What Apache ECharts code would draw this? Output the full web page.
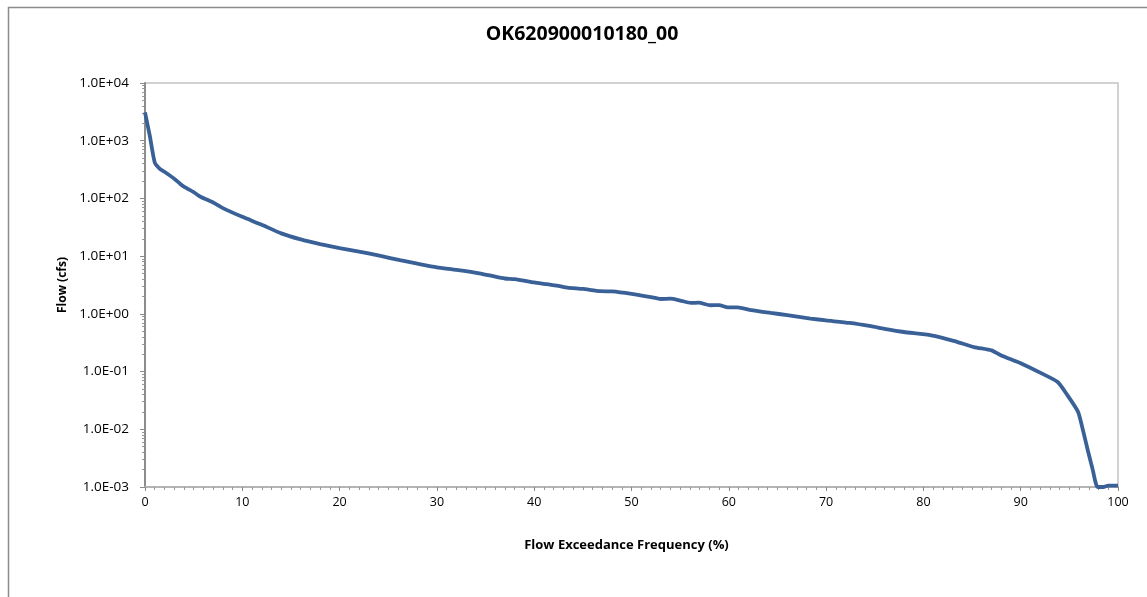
<!DOCTYPE html>
<html><head><meta charset="utf-8">
<script src="https://cdn.jsdelivr.net/npm/echarts@6/dist/echarts.min.js"></script>
<style>html,body{margin:0;padding:0;background:#fff}#c{width:1147px;height:597px}</style>
</head><body><div id="c"></div>
<script>
const titleText = 'OK620900010180_00';
const xTitle = 'Flow Exceedance Frequency (%)';
const yTitle = 'Flow (cfs)';
const pct = [0,0.5,1.0,1.5,2,3,3.6,4,5,5.7,7,8,10,12,14,16,18,20,22,24.2,26.2,28,30,32,34.5,36,37,38,40,41.3,42.5,43.4,45,46.8,48,50,52,53,54,55,56.1,56.9,58.1,59,59.9,60.9,62.3,64.3,66,68.4,70,72.4,74.6,76,78,80.8,83.2,85.2,87,88,90,92.1,93.8,94.8,95.9,96.4,96.9,97.4,97.9,98.5,99,100];
const flow = [3100,1200,420,330,290,220,180,160,128,107,85,68,48,35,24.8,19.5,16.2,13.8,12,10.1,8.5,7.4,6.4,5.8,5.0,4.4,4.1,4.0,3.5,3.27,3.05,2.86,2.7,2.47,2.45,2.22,1.95,1.81,1.83,1.7,1.55,1.56,1.41,1.42,1.29,1.30,1.16,1.04,0.95,0.83,0.77,0.695,0.61,0.55,0.485,0.425,0.338,0.266,0.233,0.19,0.14,0.094,0.066,0.039,0.020,0.0096,0.0043,0.002,0.001,0.001,0.00106,0.00106];
const yMin = 0.001, yMax = 10000;
const xTicks = [0,10,20,30,40,50,60,70,80,90,100];

const minorY = [];
for (let e = -3; e < 4; e++) for (let k = 2; k <= 9; k++) minorY.push(k * Math.pow(10, e));

function fmtE(v){
  const e = Math.round(Math.log10(v));
  return '1.0E' + (e < 0 ? '-' : '+') + String(Math.abs(e)).padStart(2,'0');
}
const F = '"Open Sans", sans-serif';
const chart = echarts.init(document.getElementById('c'), null, {renderer:'canvas'});
chart.setOption({
  animation:false,
  backgroundColor:'#fff',
  graphic:[{type:'rect', shape:{x:8.5,y:7.5,width:1300,height:700}, style:{fill:'none', stroke:'#8c8c8c', lineWidth:1.5}, z:-1}],
  title:{text:titleText, left:577, top:19, textAlign:'center', textStyle:{fontFamily:F, fontSize:19.5, fontWeight:'bold', color:'#000'}},
  grid:{left:145, right:29, top:83, bottom:110, show:true, borderColor:'#c4c4c4', borderWidth:1.5, backgroundColor:'transparent'},
  xAxis:{type:'value', min:0, max:100, interval:10,
    name:xTitle, nameLocation:'middle', nameGap:52, nameTextStyle:{fontFamily:F, fontSize:13, fontWeight:'bold', color:'#000', padding:[0,10,0,0]},
    axisLine:{lineStyle:{color:'#b4b4b4', width:2}},
    axisTick:{show:true, length:4, lineStyle:{color:'#888'}},
    minorTick:{show:true, splitNumber:10, length:3, lineStyle:{color:'#999'}},
    axisLabel:{fontFamily:F, fontSize:12.5, color:'#000', margin:9, customValues:xTicks},
    splitLine:{show:false}},
  yAxis:[{type:'log', logBase:10, min:yMin, max:yMax,
    name:yTitle, nameLocation:'middle', nameGap:73, nameTextStyle:{fontFamily:F, fontSize:12, fontWeight:'bold', color:'#000'},
    axisLine:{show:true, lineStyle:{color:'#8c8c8c', width:2}},
    axisTick:{show:true, length:5, lineStyle:{color:'#8c8c8c'}},
    axisLabel:{fontFamily:F, fontSize:13.5, color:'#000', margin:16, formatter:fmtE},
    splitLine:{show:false}},
   {type:'log', logBase:10, min:yMin, max:yMax, position:'left', offset:0,
    axisLine:{show:false},
    axisTick:{show:true, length:3, customValues:minorY, lineStyle:{color:'#999'}},
    axisLabel:{show:false},
    splitLine:{show:false}}],
  series:[{type:'line', data:pct.map((p,i)=>[p, flow[i]]), yAxisIndex:0, showSymbol:false, smooth:0.2, clip:false,
    lineStyle:{color:'#3A6197', width:3.8}}]
});
</script></body></html>
